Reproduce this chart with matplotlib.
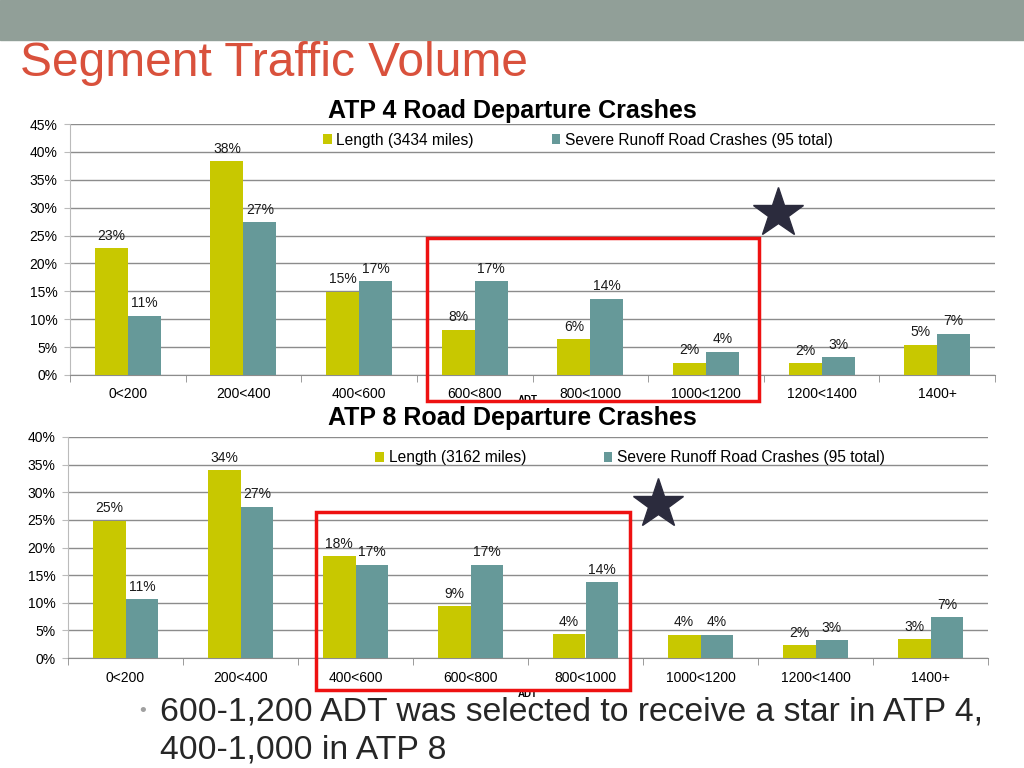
import matplotlib.pyplot as plt
from matplotlib.patches import Rectangle
from matplotlib.lines import Line2D
import numpy as np

plt.rcParams['font.family'] = ['Liberation Sans', 'DejaVu Sans']

categories = ['0<200', '200<400', '400<600', '600<800', '800<1000',
              '1000<1200', '1200<1400', '1400+']

# ATP 4 (percent)
atp4_length = [22.7, 38.3, 14.9, 8.1, 6.4, 2.2, 2.1, 5.4]
atp4_crashes = [10.6, 27.4, 16.8, 16.8, 13.7, 4.2, 3.2, 7.4]
# ATP 8 (percent)
atp8_length = [24.8, 34.0, 18.4, 9.4, 4.3, 4.2, 2.3, 3.4]
atp8_crashes = [10.6, 27.4, 16.9, 16.9, 13.7, 4.2, 3.2, 7.4]

atp4_names = ['Length (3434 miles)', 'Severe Runoff Road Crashes (95 total)']
atp8_names = ['Length (3162 miles)', 'Severe Runoff Road Crashes (95 total)']

c_len = '#c8c800'
c_crash = '#669999'
W, H = 1024, 768

fig = plt.figure(figsize=(10.24, 7.68), dpi=100)

# slide header
fig.add_artist(Rectangle((0, 1 - 40 / H), 1, 40 / H, transform=fig.transFigure,
                         color='#919f98', zorder=0))
fig.text(20 / W, 1 - 63 / H, 'Segment Traffic Volume', color='#d9513c',
         fontsize=34.5, va='center', ha='left')


def draw_chart(rect, length, crashes, names, ymax, title, title_y, legend_xy, adt_y):
    ax = fig.add_axes(rect)
    x = np.arange(len(categories))
    w = 0.285
    b1 = ax.bar(x - w / 2, length, w, color=c_len, label=names[0], zorder=3)
    b2 = ax.bar(x + w / 2, crashes, w, color=c_crash, label=names[1], zorder=3)
    for bars, vals in ((b1, length), (b2, crashes)):
        for b, v in zip(bars, vals):
            ax.annotate('%d%%' % round(v), (b.get_x() + b.get_width() / 2, v),
                        xytext=(0, 4), textcoords='offset points',
                        ha='center', va='bottom', fontsize=10, color='#1a1a1a')
    ax.set_xlim(-0.5, len(categories) - 0.5)
    ax.set_ylim(0, ymax)
    ax.set_yticks(np.arange(0, ymax + 0.1, 5))
    ax.set_yticklabels(['%d%%' % t for t in np.arange(0, ymax + 0.1, 5)], fontsize=10)
    ax.yaxis.grid(True, color='#8c8c8c', linewidth=1, zorder=0)
    ax.set_axisbelow(True)
    ax.set_xticks(x)
    ax.set_xticklabels(categories, fontsize=10)
    ax.set_xticks(np.arange(-0.5, len(categories)), minor=True)
    ax.tick_params(axis='x', which='major', length=0, pad=9)
    ax.tick_params(axis='x', which='minor', length=5, color='#8c8c8c')
    ax.tick_params(axis='y', length=4, color='#bbbbbb', pad=5)
    for s in ('top', 'right'):
        ax.spines[s].set_visible(False)
    ax.spines['left'].set_color('#bbbbbb')
    ax.spines['bottom'].set_color('#8c8c8c')
    ax.legend(loc='center', bbox_to_anchor=legend_xy, ncol=2, frameon=False,
              fontsize=11.2, handlelength=0.55, handleheight=0.55,
              handletextpad=0.3, columnspacing=5.0)
    fig.text(0.5, 1 - title_y / H, title, ha='center', va='center',
             fontsize=18, fontweight='bold')
    fig.text(528 / W, 1 - adt_y / H, 'ADT', ha='center', va='center',
             fontsize=7, fontweight='bold')
    return ax


draw_chart([70 / W, 1 - 375 / H, 925 / W, 251 / H], atp4_length, atp4_crashes,
           atp4_names, 45, 'ATP 4 Road Departure Crashes', 111, (0.549, 0.936), 400)
draw_chart([68 / W, 1 - 658 / H, 920 / W, 221 / H], atp8_length, atp8_crashes,
           atp8_names, 40, 'ATP 8 Road Departure Crashes', 418, (0.611, 0.905), 694)

# red highlight boxes
for x0, y0, x1, y1 in ((427, 238, 759, 401), (316, 512, 630, 690)):
    fig.add_artist(Rectangle((x0 / W, 1 - y1 / H), (x1 - x0) / W, (y1 - y0) / H,
                             transform=fig.transFigure, fill=False,
                             edgecolor='#ee1111', linewidth=2.5, zorder=5))

# stars
for sx, sy in ((778, 213), (658, 504)):
    fig.add_artist(Line2D([sx / W], [1 - sy / H], marker='*', markersize=38,
                          color='#2b2b3d', transform=fig.transFigure, zorder=5))

# bullet text
fig.text(143 / W, 1 - 712 / H, '\u2022', color='#a0a0a0', fontsize=14,
         va='center', ha='center')
fig.text(160 / W, 1 - 712 / H, '600-1,200 ADT was selected to receive a star in ATP 4,',
         color='#262626', fontsize=24.3, va='center', ha='left')
fig.text(160 / W, 1 - 750 / H, '400-1,000 in ATP 8',
         color='#262626', fontsize=24.3, va='center', ha='left')

fig.savefig('out.png', dpi=100)
